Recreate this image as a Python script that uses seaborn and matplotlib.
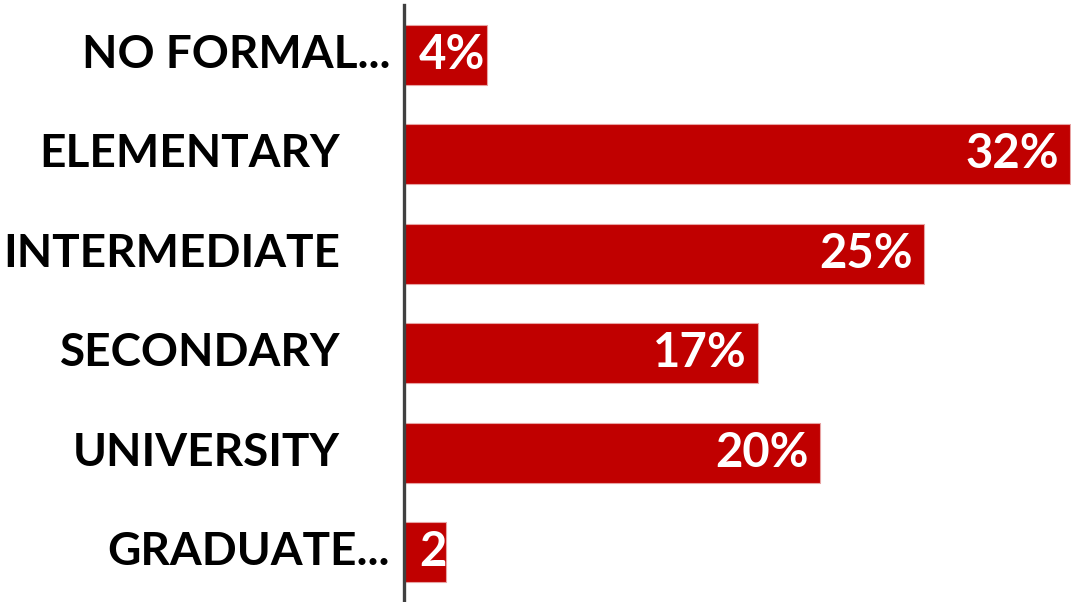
import matplotlib
matplotlib.use("Agg")
import matplotlib.pyplot as plt
import matplotlib.transforms as mtransforms
import seaborn as sns
import pandas as pd

categories = ["NO FORMAL...", "ELEMENTARY", "INTERMEDIATE", "SECONDARY", "UNIVERSITY", "GRADUATE..."]
values = [4, 32, 25, 17, 20, 2]
value_labels = ["4%", "32%", "25%", "17%", "20%", "2%"]
# horizontal gap (px) between the axis line and each category label
label_gap_px = [14, 64, 64, 64, 64, 14]

BAR_RED = "#C00000"
FONT = ["Lato", "DejaVu Sans"]

sns.set_theme(style="white")
plt.rcParams["font.family"] = FONT

df = pd.DataFrame({"level": categories, "share": values})

fig = plt.figure(figsize=(10.71, 6.02), dpi=100)
ax = fig.add_axes([404 / 1071, 0.0, 667 / 1071, 597 / 602])

sns.barplot(data=df, y="level", x="share", orient="h", color=BAR_RED,
            width=0.6, saturation=1, edgecolor="#E8A3A3", linewidth=0.8, ax=ax)

ax.set_xlim(0, 32.05)
ax.set_ylim(len(categories) - 0.5, -0.5)
ax.set_xlabel("")
ax.set_ylabel("")
ax.set_xticks([])
ax.set_yticks([])
for side in ["top", "right", "bottom"]:
    ax.spines[side].set_visible(False)
ax.spines["left"].set_color("#404040")
ax.spines["left"].set_linewidth(2.4)

# category labels, right-aligned to the left of the axis line
for i, (cat, gap) in enumerate(zip(categories, label_gap_px)):
    tr = ax.get_yaxis_transform() + mtransforms.ScaledTranslation(-gap / 100, 0, fig.dpi_scale_trans)
    ax.text(0, i, cat, transform=tr, ha="right", va="center", fontsize=33,
            fontweight="bold", color="black", clip_on=False)

# value labels inside the bar ends; short bars get the label at the start, clipped to the bar
for i, (v, lab) in enumerate(zip(values, value_labels)):
    patch = ax.patches[i]
    if v >= 6:
        tr = ax.transData + mtransforms.ScaledTranslation(-11 / 100, 0, fig.dpi_scale_trans)
        ax.text(v, i, lab, transform=tr, ha="right", va="center", fontsize=34,
                fontweight="bold", color="white")
    else:
        tr = ax.transData + mtransforms.ScaledTranslation(15 / 100, 0, fig.dpi_scale_trans)
        t = ax.text(0, i, lab, transform=tr, ha="left", va="center", fontsize=34,
                    fontweight="bold", color="white")
        t.set_clip_path(patch)

fig.savefig("out.png", dpi=100, facecolor="white")
